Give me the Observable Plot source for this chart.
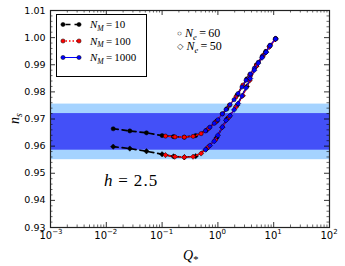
<!DOCTYPE html>
<html><head><meta charset="utf-8">
<script src="https://cdn.jsdelivr.net/npm/d3@7"></script>
<script src="https://cdn.jsdelivr.net/npm/@observablehq/plot@0.6"></script>
<style>body{margin:0;background:#fff}svg{display:block}</style>
</head><body><div id="chart"></div>
<script>
// ---- data ----
const qNM10   = [0.0133, 0.0264, 0.0525, 0.10, 0.16, 0.25, 0.40, 0.62, 0.95, 1.45, 2.2, 3.3, 4.9, 7.2, 10.8];
const ns60NM10 = [0.9664, 0.9656, 0.9649, 0.9639, 0.9635, 0.9633, 0.9639, 0.9658, 0.9692, 0.9738, 0.9788, 0.9848, 0.9899, 0.9949, 0.9996];
const ns50NM10 = [0.9598, 0.9591, 0.9581, 0.9570, 0.9562, 0.9559, 0.9563, 0.9589, 0.9631, 0.9700, 0.9750, 0.9820, 0.9895, 0.9946, 0.9995];

const qNM100   = [0.115, 0.17, 0.25, 0.36, 0.5, 0.68, 0.9, 1.2, 1.6, 2.1, 2.8, 3.7, 4.9, 6.4, 8.4, 10.8];
const ns60NM100 = [0.9637, 0.9634, 0.9633, 0.9636, 0.9646, 0.9665, 0.9688, 0.9719, 0.9750, 0.9781, 0.9825, 0.9862, 0.9899, 0.9934, 0.9968, 0.9996];
const ns50NM100 = [0.9567, 0.9561, 0.9559, 0.9561, 0.9573, 0.9598, 0.9623, 0.9670, 0.9708, 0.9744, 0.9786, 0.9842, 0.9895, 0.9932, 0.9966, 0.9995];

const qNM1000   = [0.6, 0.72, 0.86, 1.0, 1.2, 1.4, 1.65, 1.95, 2.3, 2.7, 3.2, 3.8, 4.5, 5.3, 6.2, 7.3, 8.6, 10.8];
const ns60NM1000 = [0.9656, 0.9670, 0.9684, 0.9697, 0.9719, 0.9735, 0.9753, 0.9771, 0.9794, 0.9818, 0.9843, 0.9866, 0.9887, 0.9909, 0.9930, 0.9948, 0.9972, 0.9996];
const ns50NM1000 = [0.9587, 0.9602, 0.9618, 0.9640, 0.9670, 0.9695, 0.9712, 0.9734, 0.9757, 0.9785, 0.9815, 0.9849, 0.9880, 0.9906, 0.9926, 0.9946, 0.9970, 0.9995];

const bandOuter = [0.9550, 0.9755];
const bandInner = [0.9585, 0.9720];

const xTickValues = [1e-3, 1e-2, 1e-1, 1e0, 1e1, 1e2];
const xTickExponents = ["-3", "-2", "-1", "0", "1", "2"];
const yTickValues = [0.93, 0.94, 0.95, 0.96, 0.97, 0.98, 0.99, 1.00, 1.01];
const nmLabels = ["10", "100", "1000"];
const neLabels = ["60", "50"];
const hLabel = "2.5";

// ---- build tables ----
const zip = (q, n) => q.map((v, i) => ({q: v, ns: n[i]}));
const s10_60 = zip(qNM10, ns60NM10), s10_50 = zip(qNM10, ns50NM10);
const s100_60 = zip(qNM100, ns60NM100), s100_50 = zip(qNM100, ns50NM100);
const s1000_60 = zip(qNM1000, ns60NM1000), s1000_50 = zip(qNM1000, ns50NM1000);

const xMinor = [];
for (let k = -3; k < 2; k++) for (let m = 2; m <= 9; m++) xMinor.push(m * Math.pow(10, k));
const yMinor = d3.range(0, 41).map(i => 0.93 + i * 0.002).filter((v, i) => i % 5 !== 0);

const W = 345, H = 266, mL = 50, mR = 16, mT = 10, mB = 39;
const fH = H - mT - mB, fW = W - mL - mR;
const major = 5, minor = 2.5;

const light = "#a5d3ff", dark = "#4350f8";
const red = "#ff0000", blue = "#0000ff";

function series(d60, d50, color, dash, sw, mfill, mstroke) {
  return [
    Plot.line(d60, {x: "q", y: "ns", stroke: color, strokeWidth: sw, strokeDasharray: dash}),
    Plot.line(d50, {x: "q", y: "ns", stroke: color, strokeWidth: sw, strokeDasharray: dash}),
    Plot.dot(d60, {x: "q", y: "ns", r: 2.1, fill: mfill, stroke: mstroke, strokeWidth: 0.5}),
    Plot.dot(d50, {x: "q", y: "ns", r: 2.4, symbol: "diamond2", fill: mfill, stroke: mstroke, strokeWidth: 0.5})
  ];
}

const plot = Plot.plot({
  width: W, height: H, marginLeft: mL, marginRight: mR, marginTop: mT, marginBottom: mB,
  style: {background: "white", fontFamily: "DejaVu Sans", color: "black", overflow: "visible"},
  x: {type: "log", domain: [1e-3, 1e2], axis: null},
  y: {domain: [0.93, 1.01], axis: null},
  marks: [
    Plot.rect([bandOuter], {y1: d => d[0], y2: d => d[1], fill: light}),
    Plot.rect([bandInner], {y1: d => d[0], y2: d => d[1], fill: dark}),
    ...series(s10_60, s10_50, "black", "5,4", 1.7, "black", "black"),
    ...series(s100_60, s100_50, red, "1.5,2", 1.5, red, "black"),
    ...series(s1000_60, s1000_50, blue, null, 1.0, blue, "black"),
    // ticks (inward, all four sides)
    Plot.tickX(xTickValues, {x: d => d, insetTop: fH - major, stroke: "black", strokeWidth: 0.8}),
    Plot.tickX(xTickValues, {x: d => d, insetBottom: fH - major, stroke: "black", strokeWidth: 0.8}),
    Plot.tickX(xMinor, {x: d => d, insetTop: fH - minor, stroke: "black", strokeWidth: 0.6}),
    Plot.tickX(xMinor, {x: d => d, insetBottom: fH - minor, stroke: "black", strokeWidth: 0.6}),
    Plot.tickY(yTickValues, {y: d => d, insetRight: fW - major, stroke: "black", strokeWidth: 0.8}),
    Plot.tickY(yTickValues, {y: d => d, insetLeft: fW - major, stroke: "black", strokeWidth: 0.8}),
    Plot.tickY(yMinor, {y: d => d, insetRight: fW - minor, stroke: "black", strokeWidth: 0.6}),
    Plot.tickY(yMinor, {y: d => d, insetLeft: fW - minor, stroke: "black", strokeWidth: 0.6}),
    Plot.frame({stroke: "#222", strokeWidth: 1.2}),
    // y tick labels
    Plot.text(yTickValues, {y: d => d, frameAnchor: "left", dx: -5, textAnchor: "end", text: d => d.toFixed(2), fontSize: 9.5, fill: "black"})
  ]
});
document.getElementById("chart").append(plot);

// ---- rich text annotations & legend ----
const svg = d3.select(plot);
const SERIF = "Liberation Serif, DejaVu Serif, serif";
function rich(x, y, size, parts, extra = {}, family = SERIF) {
  const t = svg.append("text").attr("x", x).attr("y", y)
    .attr("font-family", family).attr("font-size", size).attr("fill", "black")
    .attr("text-anchor", "start");
  for (const k in extra) t.attr(k, extra[k]);
  for (const p of parts) {
    const s = t.append("tspan").text(p.t);
    if (p.i) s.attr("font-style", "italic");
    if (p.s) s.attr("font-size", size * p.s);
    if (p.dy) s.attr("dy", p.dy);
    if (p.dx) s.attr("dx", p.dx);
  }
  return t;
}

// x tick labels (10^k with superscript), placed with Plot's x scale
const xs = plot.scale("x");
xTickValues.forEach((v, i) => {
  rich(xs.apply(v) + (i === 0 ? 1 : 0), 238.5, 10, [{t: "10"}, {t: xTickExponents[i].replace("-", "\u2212"), s: 0.7, dy: -4.5}],
    {"text-anchor": "middle"}, "DejaVu Sans");
});

// legend
const lg = svg.append("g");
lg.append("rect").attr("x", 56.5).attr("y", 14.5).attr("width", 90).attr("height", 62)
  .attr("fill", "white").attr("stroke", "black").attr("stroke-width", 1);
const rows = [
  {y: 24.5, c: "black", dash: "5,4", w: 1.7, f: "black"},
  {y: 41, c: red, dash: "1.5,2", w: 1.5, f: red},
  {y: 57.5, c: blue, dash: null, w: 1.0, f: blue}
];
rows.forEach((r, i) => {
  const ln = lg.append("line").attr("x1", 63).attr("x2", 79).attr("y1", r.y).attr("y2", r.y)
    .attr("stroke", r.c).attr("stroke-width", r.w);
  if (r.dash) ln.attr("stroke-dasharray", r.dash).attr("stroke-dashoffset", -2.5);
  [63, 79].forEach(cx => lg.append("circle").attr("cx", cx).attr("cy", r.y).attr("r", 2.1)
    .attr("fill", r.f).attr("stroke", "black").attr("stroke-width", 0.5));
  rich(90, r.y + 3.8, 11, [{t: "N", i: true}, {t: "M", i: true, s: 0.7, dy: 2.5}, {t: "\u2009=\u2009" + nmLabels[i], dy: -2.5}]);
});

// Ne annotation
rich(177, 37, 12, [{t: "\u25CB", s: 0.7, dy: -1}, {t: " ", dy: 1}, {t: "N", i: true}, {t: "e", i: true, s: 0.7, dy: 2.5}, {t: "\u2009=\u2009" + neLabels[0], dy: -2.5}]);
rich(177, 50, 12, [{t: "\u25C7", s: 0.7, dy: -1}, {t: " ", dy: 1}, {t: "N", i: true}, {t: "e", i: true, s: 0.7, dy: 2.5}, {t: "\u2009=\u2009" + neLabels[1], dy: -2.5}]);

// h = 2.5
rich(104, 186, 17, [{t: "h", i: true}, {t: "\u2009=\u2009" + hLabel}], {"letter-spacing": "1.2"});

// axis labels
rich(183, 260, 14, [{t: "Q", i: true}, {t: "*", s: 0.75, dy: 3}]);
rich(0, 0, 14, [{t: "n", i: true}, {t: "s", i: true, s: 0.7, dy: 2.5}], {transform: "translate(19,124) rotate(-90)"});
</script>
</body></html>
